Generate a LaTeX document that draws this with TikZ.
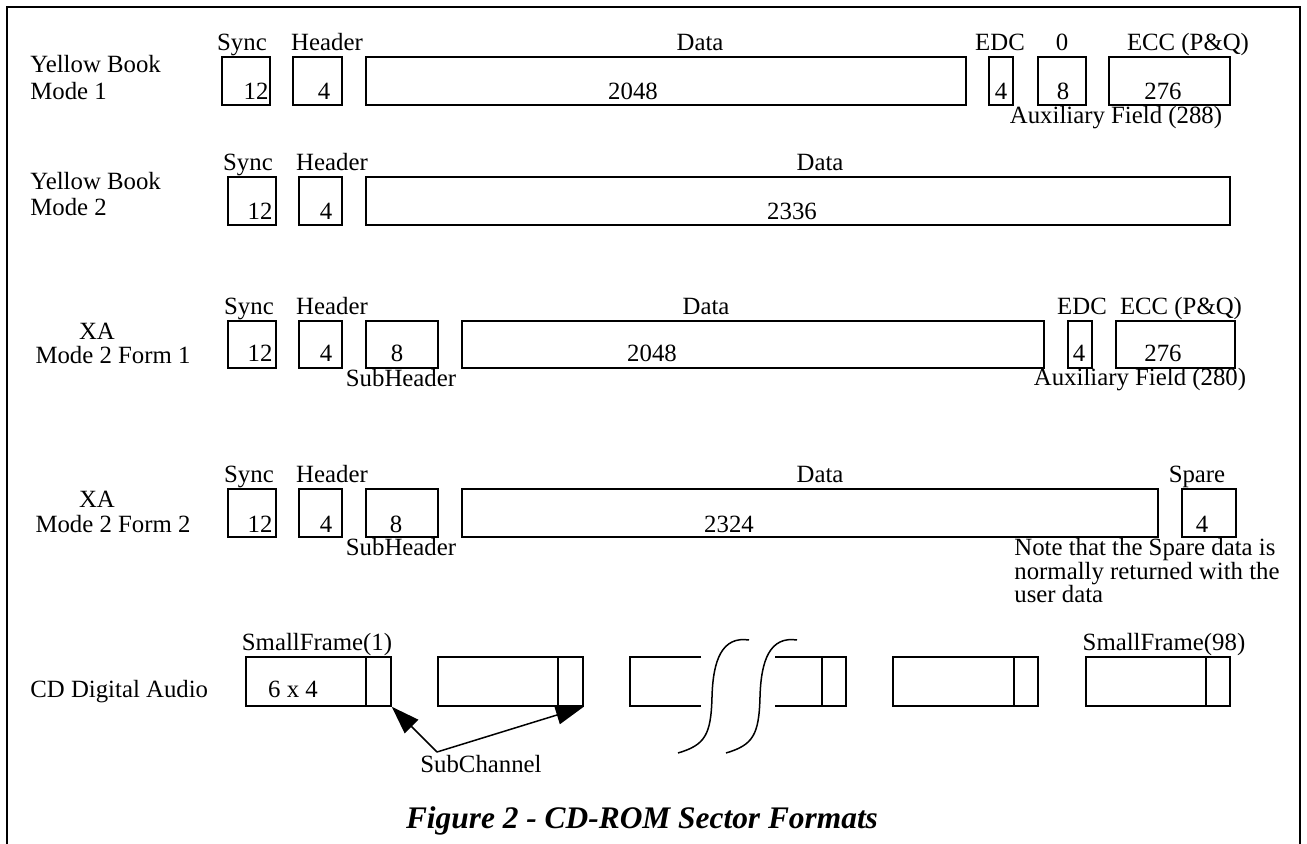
\documentclass[tikz,border=0pt]{standalone}
\usepackage{fontspec}
\setmainfont{Liberation Serif}
\usetikzlibrary{fit,arrows.meta}
\begin{document}
\begin{tikzpicture}[x=0.5pt,y=-0.5pt,
  box/.style={draw, line width=0.75pt, inner sep=0pt},
  txt/.style={inner sep=0pt, anchor=base, font=\fontsize{12.4}{14}\selectfont},
  ltxt/.style={txt, anchor=base west},
  thin/.style={line width=0.75pt},
  ptr/.style={thin, -{Triangle[length=14pt,width=9.5pt]}},
  ttl/.style={inner sep=0pt, anchor=base, font=\fontsize{15.7}{18}\selectfont\bfseries\itshape}]
\useasboundingbox (0,0) rectangle (1307,844);
\draw[line width=1pt] (7,846) -- (7,7) -- (1300,7) -- (1300,846);

% ---------- Row 1: Yellow Book Mode 1
\node[ltxt] (r1a) at (30,73) {Yellow Book};
\node[ltxt] (r1b) at (30,100) {Mode 1};
\node[txt] (r1sync) at (242,51) {Sync};
\node[txt] (r1head) at (327,51) {Header};
\node[txt] (r1data) at (700,51) {Data};
\node[txt] (r1edc) at (1000,51) {EDC};
\node[txt] (r1zero) at (1062,51) {0};
\node[txt] (r1ecc) at (1188,51) {ECC (P\&Q)};
\node[box, fit={(222,57) (270,105)}] (s1) {};
\node[box, fit={(293,57) (342,105)}] (h1) {};
\node[box, fit={(366,57) (966,105)}] (d1) {};
\node[box, fit={(989,57) (1013,105)}] (e1) {};
\node[box, fit={(1038,57) (1086,105)}] (z1) {};
\node[box, fit={(1109,57) (1230,105)}] (c1) {};
\node[txt] (n1s) at (256,100) {12};
\node[txt] (n1h) at (324,100) {4};
\node[txt] (n1d) at (633,100) {2048};
\node[txt] (n1e) at (1001,100) {4};
\node[txt] (n1z) at (1063,100) {8};
\node[txt] (n1c) at (1163,100) {276};
\node[txt] (aux1) at (1116,124) {Auxiliary Field (288)};

% ---------- Row 2: Yellow Book Mode 2
\node[ltxt] (r2a) at (30,190) {Yellow Book};
\node[ltxt] (r2b) at (30,216) {Mode 2};
\node[txt] (r2sync) at (248,171) {Sync};
\node[txt] (r2head) at (332,171) {Header};
\node[txt] (r2data) at (820,171) {Data};
\node[box, fit={(228,177) (276,225)}] (s2) {};
\node[box, fit={(299,177) (342,225)}] (h2) {};
\node[box, fit={(366,177) (1230,225)}] (d2) {};
\node[txt] (n2s) at (260,220) {12};
\node[txt] (n2h) at (326,220) {4};
\node[txt] (n2d) at (792,220) {2336};

% ---------- Row 3: XA Mode 2 Form 1
\node[txt] (r3a) at (97,340) {XA};
\node[txt] (r3b) at (113,364) {Mode 2 Form 1};
\node[txt] (r3sync) at (249,315) {Sync};
\node[txt] (r3head) at (332,315) {Header};
\node[txt] (r3data) at (706,315) {Data};
\node[txt] (r3edc) at (1082,315) {EDC};
\node[txt] (r3ecc) at (1181,315) {ECC (P\&Q)};
\node[box, fit={(228,321) (276,368)}] (s3) {};
\node[box, fit={(299,321) (342,368)}] (h3) {};
\node[box, fit={(366,321) (438,368)}] (sh3) {};
\node[box, fit={(462,321) (1044,368)}] (d3) {};
\node[box, fit={(1068,321) (1092,368)}] (e3) {};
\node[box, fit={(1116,321) (1235,368)}] (c3) {};
\node[txt] (n3s) at (260,362) {12};
\node[txt] (n3h) at (326,362) {4};
\node[txt] (n3sh) at (397,362) {8};
\node[txt] (n3d) at (652,362) {2048};
\node[txt] (n3e) at (1079,362) {4};
\node[txt] (n3c) at (1163,362) {276};
\node[txt] (sub3) at (401,387) {SubHeader};
\node[txt] (aux3) at (1140,386) {Auxiliary Field (280)};

% ---------- Row 4: XA Mode 2 Form 2
\node[txt] (r4a) at (97,508) {XA};
\node[txt] (r4b) at (113,532) {Mode 2 Form 2};
\node[txt] (r4sync) at (249,483) {Sync};
\node[txt] (r4head) at (332,483) {Header};
\node[txt] (r4data) at (820,483) {Data};
\node[txt] (r4spare) at (1197,483) {Spare};
\node[box, fit={(228,489) (276,537)}] (s4) {};
\node[box, fit={(299,489) (342,537)}] (h4) {};
\node[box, fit={(366,489) (438,537)}] (sh4) {};
\node[box, fit={(462,489) (1158,537)}] (d4) {};
\node[box, fit={(1182,489) (1236,537)}] (sp4) {};
\node[txt] (n4s) at (260,532) {12};
\node[txt] (n4h) at (326,532) {4};
\node[txt] (n4sh) at (396,532) {8};
\node[txt] (n4d) at (729,532) {2324};
\node[txt] (n4sp) at (1202,532) {4};
\node[txt] (sub4) at (401,556) {SubHeader};
\node[ltxt] (note1) at (1014,556) {Note that the Spare data is};
\node[ltxt] (note2) at (1014,580) {normally returned with the};
\node[ltxt] (note3) at (1014,603) {user data};

% ---------- Row 5: CD Digital Audio
\node[ltxt] (r5a) at (30,697) {CD Digital Audio};
\node[txt] (sf1) at (317,650) {SmallFrame(1)};
\node[txt] (sf98) at (1164,650) {SmallFrame(98)};
\node[box, fit={(246,657) (391,706)}] (f1) {};
\draw[thin] (366,657) -- (366,706);
\node[txt] (n5) at (293,697) {6 x 4};
\node[box, fit={(438,657) (583,706)}] (f2) {};
\draw[thin] (558,657) -- (558,706);
% broken frame
\draw[thin] (701,657) -- (630,657) -- (630,706) -- (701,706);
\draw[thin] (775,657) -- (846,657) -- (846,706) -- (775,706);
\draw[thin] (822,657) -- (822,706);
\draw[thin] (749,640) .. controls (722,636) and (713,660) .. (712,697)
                      .. controls (711,735) and (705,745) .. (678,753);
\draw[thin] (797,640) .. controls (770,636) and (761,660) .. (760,697)
                      .. controls (759,735) and (753,745) .. (726,753);
\node[box, fit={(893,657) (1038,706)}] (f4) {};
\draw[thin] (1014,657) -- (1014,706);
\node[box, fit={(1086,657) (1230,706)}] (f5) {};
\draw[thin] (1206,657) -- (1206,706);

\node[txt] (subch) at (481,772) {SubChannel};
\coordinate (apex) at (437,752);
\draw[ptr] (apex) -- (f1.south east);
\draw[ptr] (apex) -- (f2.south east);

\node[ttl] (title) at (642,828) {Figure 2 - CD-ROM Sector Formats};
\end{tikzpicture}
\end{document}
